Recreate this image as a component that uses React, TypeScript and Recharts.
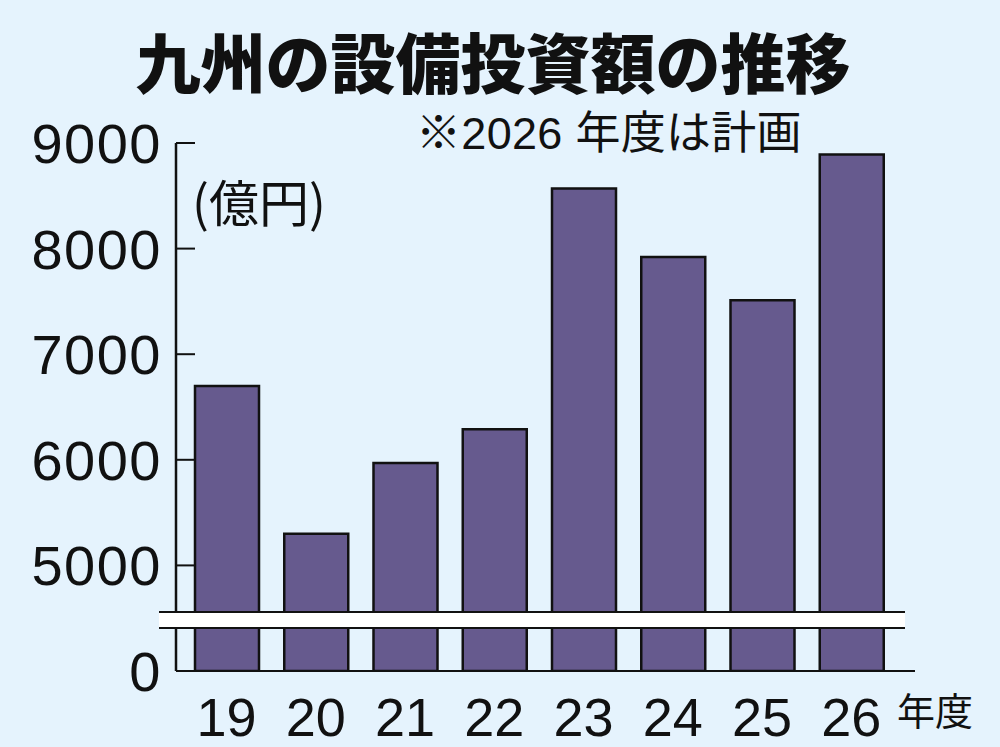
import React from 'react';
import { BarChart, Bar, XAxis, YAxis, ReferenceArea } from 'recharts';

// 年度 and 設備投資額 (億円); 2026 is the plan
const years = ['19', '20', '21', '22', '23', '24', '25', '26'];
const investment = [6700, 5300, 5970, 6290, 8570, 7920, 7510, 8890];

// axis is broken: the bottom tick stands for 0, the rest are real values
const yTicks = [4000, 5000, 6000, 7000, 8000, 9000];
const yTickLabels = ['0', '5000', '6000', '7000', '8000', '9000'];
const breakRange = [4407, 4559];

const data = years.map((year, i) => ({ year, value: investment[i] }));

const BG = '#e5f3fd';
const BAR = '#665a8e';
const INK = '#111';
const NUM_FONT = '"Liberation Sans", "Noto Sans CJK JP", sans-serif';
const JP_FONT = '"Noto Sans CJK JP", sans-serif';

const YTick = (props: any) => {
    const { x, y, payload } = props;
    const idx = yTicks.indexOf(payload.value);
    return (
        <g>
            {idx > 0 && <line x1={x} x2={x + 19} y1={y} y2={y} stroke={INK} strokeWidth={2} />}
            <text x={x - 14} y={y + 20} textAnchor="end" fontSize={56} fontFamily={NUM_FONT} fill={INK} letterSpacing={1.5}>
                {yTickLabels[idx]}
            </text>
        </g>
    );
};

const XTick = (props: any) => {
    const { x, y, payload } = props;
    return (
        <text x={x} y={y + 57} textAnchor="middle" fontSize={54} fontFamily={NUM_FONT} fill={INK}>
            {payload.value}
        </text>
    );
};

const BreakBand = (props: any) => {
    const { x, y, width, height } = props;
    const left = x - 23;
    const right = x + width + 9;
    return (
        <g>
            <rect x={left} y={y} width={right - left} height={height} fill="#fff" />
            <line x1={left} x2={right} y1={y} y2={y} stroke={INK} strokeWidth={2} />
            <line x1={left} x2={right} y1={y + height} y2={y + height} stroke={INK} strokeWidth={2} />
        </g>
    );
};

const label = (style: React.CSSProperties, text: string) => (
    <div style={{ position: 'absolute', whiteSpace: 'nowrap', color: INK, lineHeight: 1, ...style }}>{text}</div>
);

export default function App() {
    return (
        <div style={{ position: 'absolute', left: 0, top: 0, width: 1000, height: 747, background: BG, overflow: 'hidden' }}>
            <BarChart width={1000} height={747} data={data} margin={{ top: 143, right: 85, bottom: 16, left: 116 }}>
                <XAxis
                    dataKey="year"
                    height={60}
                    padding={{ left: 6, right: 19 }}
                    axisLine={{ stroke: INK, strokeWidth: 2 }}
                    tickLine={false}
                    tick={<XTick />}
                    interval={0}
                />
                <YAxis
                    width={60}
                    domain={[4000, 9000]}
                    ticks={yTicks}
                    allowDataOverflow
                    axisLine={{ stroke: INK, strokeWidth: 2.5 }}
                    tickLine={false}
                    tickSize={0}
                    tickMargin={0}
                    tick={<YTick />}
                    interval={0}
                />
                <Bar dataKey="value" fill={BAR} stroke={INK} strokeWidth={2.5} barSize={64} isAnimationActive={false} />
                <ReferenceArea y1={breakRange[0]} y2={breakRange[1]} ifOverflow="visible" shape={<BreakBand />} zIndex={600} />
            </BarChart>
            {label({ left: 0, width: 986, top: 28, textAlign: 'center', fontSize: 65, fontWeight: 900, fontFamily: JP_FONT }, '九州の設備投資額の推移')}
            {label({ left: 416, top: 111, fontSize: 45, fontFamily: NUM_FONT, letterSpacing: 0.3 }, '※2026 年度は計画')}
            {label({ left: 192, top: 175, fontSize: 50, fontFamily: JP_FONT }, '(億円)')}
            {label({ left: 897, top: 690, fontSize: 38, fontFamily: JP_FONT }, '年度')}
        </div>
    );
}
